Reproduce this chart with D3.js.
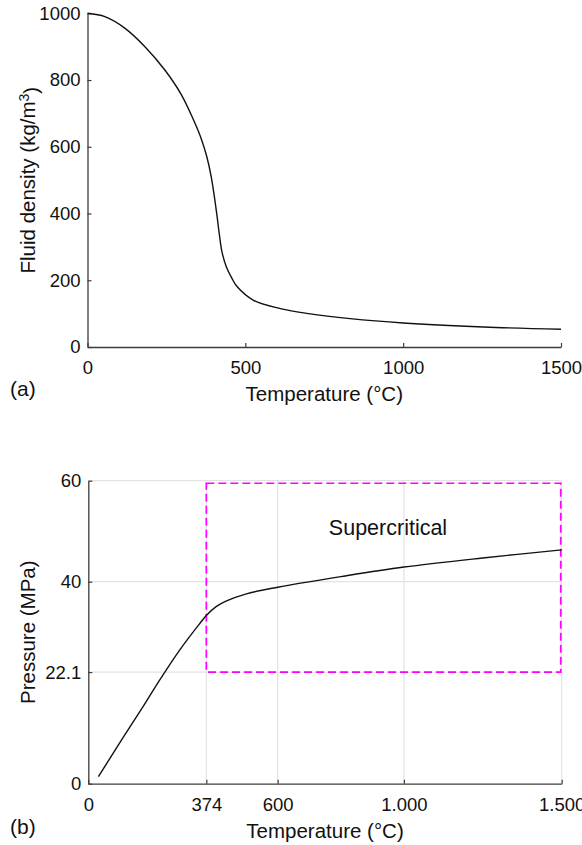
<!DOCTYPE html>
<html>
<head>
<meta charset="utf-8">
<script src="https://cdn.jsdelivr.net/npm/d3@7"></script>
<style>
  body { margin: 0; background: #fff; }
  svg text { font-family: "Liberation Sans", Arial, Helvetica, sans-serif; fill: #111; }
</style>
</head>
<body>
<div id="chart"></div>
<script>
// (a) fluid density vs temperature
var densityTemp = [0, 55, 119, 182, 245, 298, 336, 360, 378, 392, 402, 410, 418, 426, 440, 458, 473, 526, 611, 700, 832, 1000, 1255, 1500];
var densityVals = [1000, 990, 955, 900, 830, 755, 680, 625, 570, 510, 450, 395, 335, 285, 240, 205, 182, 140, 115, 100, 85, 72, 60, 53];
var densityXTicks = [0, 500, 1000, 1500];
var densityYTicks = [0, 200, 400, 600, 800, 1000];

// (b) pressure vs temperature
var pressTemp = [32, 111, 174, 227, 290, 353, 374, 406, 438, 501, 600, 800, 1000, 1250, 1500];
var pressVals = [1.4, 9.2, 15.3, 20.6, 26.5, 31.7, 33.3, 35.1, 36.2, 37.6, 38.9, 41.0, 42.9, 44.7, 46.3];
var pressXTicks = [0, 374, 600, 1000, 1500];
var pressYTicks = [0, 22.1, 40, 60];
// supercritical region: [Tmin, Tmax], [Pmin, Pmax]
var superTemp = [374, 1497];
var superPress = [22.1, 59.5];

var width = 582, height = 845;
var axisColor = "#3c3c3c", gridColor = "#e3e3e3";

var svg = d3.select("#chart").append("svg")
  .attr("width", width)
  .attr("height", height);

var euro = d3.formatLocale({decimal: ",", thousands: ".", grouping: [3], currency: ["", ""]}).format(",");

function styleAxis(g) {
  g.select(".domain").attr("stroke", axisColor).attr("stroke-width", 1.3);
  g.selectAll(".tick line").attr("stroke", axisColor).attr("stroke-width", 1.2);
  g.selectAll(".tick text").style("font-size", "18.5px").attr("fill", "#111");
  g.attr("font-family", null).attr("font-size", null);
}

// ---------- panel (a) ----------
var xA = d3.scaleLinear().domain([0, 1500]).range([87.5, 561]);
var yA = d3.scaleLinear().domain([0, 1000]).range([347, 13.3]);

var gA = svg.append("g");

gA.append("g")
  .attr("transform", "translate(0," + yA(0) + ")")
  .call(d3.axisBottom(xA).tickValues(densityXTicks).tickSizeInner(-4).tickSizeOuter(0).tickPadding(14)
    .tickFormat(d3.format("d")))
  .call(styleAxis);

gA.append("g")
  .attr("transform", "translate(" + xA(0) + ",0)")
  .call(d3.axisLeft(yA).tickValues(densityYTicks).tickSizeInner(-4).tickSizeOuter(0).tickPadding(7)
    .tickFormat(d3.format("d")))
  .call(styleAxis);

var lineA = d3.line()
  .x(function (d, i) { return xA(densityTemp[i]); })
  .y(function (d) { return yA(d); })
  .curve(d3.curveCatmullRom.alpha(0.5));

gA.append("path")
  .datum(densityVals)
  .attr("d", lineA)
  .attr("fill", "none")
  .attr("stroke", "#111")
  .attr("stroke-width", 1.4);

gA.append("text")
  .attr("x", (xA.range()[0] + xA.range()[1]) / 2)
  .attr("y", 401)
  .attr("text-anchor", "middle")
  .style("font-size", "20.5px")
  .text("Temperature (°C)");

var yLabA = gA.append("text")
  .attr("transform", "translate(35," + ((yA.range()[0] + yA.range()[1]) / 2) + ") rotate(-90)")
  .attr("text-anchor", "middle")
  .style("font-size", "20.5px");
yLabA.append("tspan").text("Fluid density (kg/m");
yLabA.append("tspan").attr("dy", "-0.45em").style("font-size", "14px").text("3");
yLabA.append("tspan").attr("dy", "0.45em").text(")");

gA.append("text")
  .attr("x", 10).attr("y", 396)
  .style("font-size", "21px")
  .text("(a)");

// ---------- panel (b) ----------
var xB = d3.scaleLinear().domain([0, 1500]).range([88.3, 561.7]);
var yB = d3.scaleLinear().domain([0, 60]).range([783.7, 480.7]);

var gB = svg.append("g");

// grid
gB.append("g")
  .selectAll("line.vx")
  .data(pressXTicks.slice(1))
  .enter().append("line")
  .attr("x1", function (d) { return xB(d); })
  .attr("x2", function (d) { return xB(d); })
  .attr("y1", yB(0)).attr("y2", yB(60))
  .attr("stroke", gridColor).attr("stroke-width", 1.2);

gB.append("g")
  .selectAll("line.hy")
  .data(pressYTicks.slice(1))
  .enter().append("line")
  .attr("y1", function (d) { return yB(d); })
  .attr("y2", function (d) { return yB(d); })
  .attr("x1", xB(0)).attr("x2", xB(1500))
  .attr("stroke", gridColor).attr("stroke-width", 1.2);

gB.append("g")
  .attr("transform", "translate(0," + yB(0) + ")")
  .call(d3.axisBottom(xB).tickValues(pressXTicks).tickSizeInner(-4).tickSizeOuter(0).tickPadding(14)
    .tickFormat(function (d) { return euro(d); }))
  .call(styleAxis);

gB.append("g")
  .attr("transform", "translate(" + xB(0) + ",0)")
  .call(d3.axisLeft(yB).tickValues(pressYTicks).tickSizeInner(-4).tickSizeOuter(0).tickPadding(7)
    .tickFormat(function (d) { return String(d); }))
  .call(styleAxis);

// supercritical box
gB.append("rect")
  .attr("x", xB(superTemp[0]))
  .attr("y", yB(superPress[1]))
  .attr("width", xB(superTemp[1]) - xB(superTemp[0]))
  .attr("height", yB(superPress[0]) - yB(superPress[1]))
  .attr("fill", "none")
  .attr("stroke", "#ff00ff")
  .attr("stroke-width", 1.7)
  .attr("stroke-dasharray", "8,4");

var lineB = d3.line()
  .x(function (d, i) { return xB(pressTemp[i]); })
  .y(function (d) { return yB(d); })
  .curve(d3.curveCatmullRom.alpha(0.5));

gB.append("path")
  .datum(pressVals)
  .attr("d", lineB)
  .attr("fill", "none")
  .attr("stroke", "#111")
  .attr("stroke-width", 1.4);

gB.append("text")
  .attr("x", 388).attr("y", 535)
  .attr("text-anchor", "middle")
  .style("font-size", "21.5px")
  .text("Supercritical");

gB.append("text")
  .attr("x", (xB.range()[0] + xB.range()[1]) / 2)
  .attr("y", 838)
  .attr("text-anchor", "middle")
  .style("font-size", "20.5px")
  .text("Temperature (°C)");

gB.append("text")
  .attr("transform", "translate(35," + ((yB.range()[0] + yB.range()[1]) / 2) + ") rotate(-90)")
  .attr("text-anchor", "middle")
  .style("font-size", "20.5px")
  .text("Pressure (MPa)");

gB.append("text")
  .attr("x", 10).attr("y", 834)
  .style("font-size", "21px")
  .text("(b)");
</script>
</body>
</html>
